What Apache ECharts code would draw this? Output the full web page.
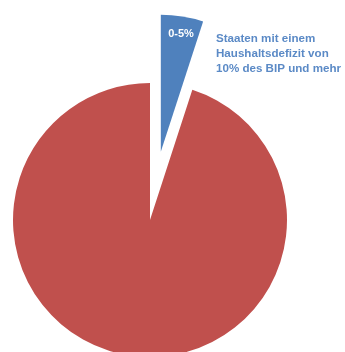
<!DOCTYPE html>
<html><head><meta charset="utf-8">
<script src="https://cdn.jsdelivr.net/npm/echarts@6/dist/echarts.min.js"></script>
<style>html,body{margin:0;padding:0;background:#fff}#c{width:345px;height:352px}</style>
</head><body><div id="c"></div>
<script>
const categories = ['0-5%', 'Rest'];
const values = [5, 95];
const colors = ['#4F81BD', '#C0504D'];
const noteLines = ['Staaten mit einem', 'Haushaltsdefizit von', '10% des BIP und mehr'];

const chart = echarts.init(document.getElementById('c'), null, {renderer: 'canvas'});
chart.setOption({
  animation: false,
  title: {
    text: noteLines.join('\n'),
    left: 216, top: 31, padding: 0,
    textStyle: {color: '#5B8AC6', fontFamily: 'Liberation Sans, Arial', fontWeight: 'bold', fontSize: 11.6, lineHeight: 15}
  },
  series: [{
    type: 'pie',
    center: [150, 220],
    radius: [0, 137],
    startAngle: 90,
    clockwise: true,
    selectedMode: 'single',
    selectedOffset: 69,
    emphasis: {disabled: true},
    itemStyle: {borderColor: '#fff', borderWidth: 0},
    label: {show: false},
    labelLine: {show: false},
    labelLayout: function (p) { return p.dataIndex === 0 ? {dx: 9, dy: -47} : {}; },
    data: categories.map((c, i) => ({
      name: c, value: values[i], selected: i === 0,
      itemStyle: {color: colors[i]},
      label: i === 0 ? {show: true, position: 'inside', formatter: '{b}', color: '#fff', fontWeight: 'bold', fontSize: 11, fontFamily: 'Liberation Sans, Arial'} : {show: false}
    }))
  }]
});
</script></body></html>
